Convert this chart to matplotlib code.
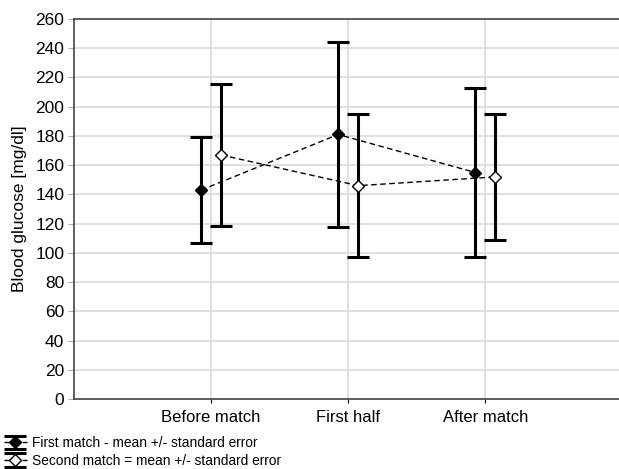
import matplotlib
matplotlib.use("Agg")
import matplotlib.pyplot as plt
import numpy as np

plt.rcParams["font.family"] = ["Liberation Sans", "DejaVu Sans"]

# blood glucose per phase, mean and standard error
phases = ["Before match", "First half", "After match"]
first_mean = [143, 181, 155]
first_err = [36.5, 63.5, 58]
second_mean = [167, 146, 152]
second_err = [48.5, 49, 43]

x = np.arange(1, len(phases) + 1)
shift = 0.073

fig = plt.figure(figsize=(6.19, 4.69), dpi=100)
ax = fig.add_axes([0.1196, 0.149, 0.886, 0.8105])

common = dict(color="black", ecolor="black", elinewidth=2.2, capsize=8,
              capthick=2.2, markersize=7, linestyle=(0, (4, 2.5)), linewidth=1)
h1 = ax.errorbar(x - shift, first_mean, yerr=first_err, marker="D",
                 markerfacecolor="black", markeredgecolor="black", **common)
h2 = ax.errorbar(x + shift, second_mean, yerr=second_err, marker="D",
                 markerfacecolor="white", markeredgecolor="black", **common)
for h in (h1, h2):
    h[0].set_markersize(6)

ax.set_xlim(0, 4)
ax.set_ylim(0, 260)
ax.set_yticks(range(0, 261, 20))
ax.set_xticks(x)
ax.set_xticklabels(phases, fontsize=12)
ax.tick_params(axis="y", labelsize=12.5, length=4, color="#aaaaaa", pad=3)
ax.tick_params(axis="x", length=3, pad=5)
ax.set_ylabel("Blood glucose [mg/dl]", fontsize=12.5, labelpad=6)
ax.grid(True, color="#dddddd", linewidth=1.3)
ax.set_axisbelow(True)
for side in ("left", "bottom", "top"):
    ax.spines[side].set_color("#444444")
    ax.spines[side].set_linewidth(1.2)
ax.spines["right"].set_visible(False)

fig.legend([h1, h2],
           ["First match - mean +/- standard error",
            "Second match = mean +/- standard error"],
           loc="lower left", bbox_to_anchor=(-0.003, -0.009), frameon=False,
           fontsize=9.9, handlelength=1.7, handletextpad=0.35,
           labelspacing=0.25, borderpad=0.2, borderaxespad=0.2)

fig.savefig("out.png", dpi=100)
